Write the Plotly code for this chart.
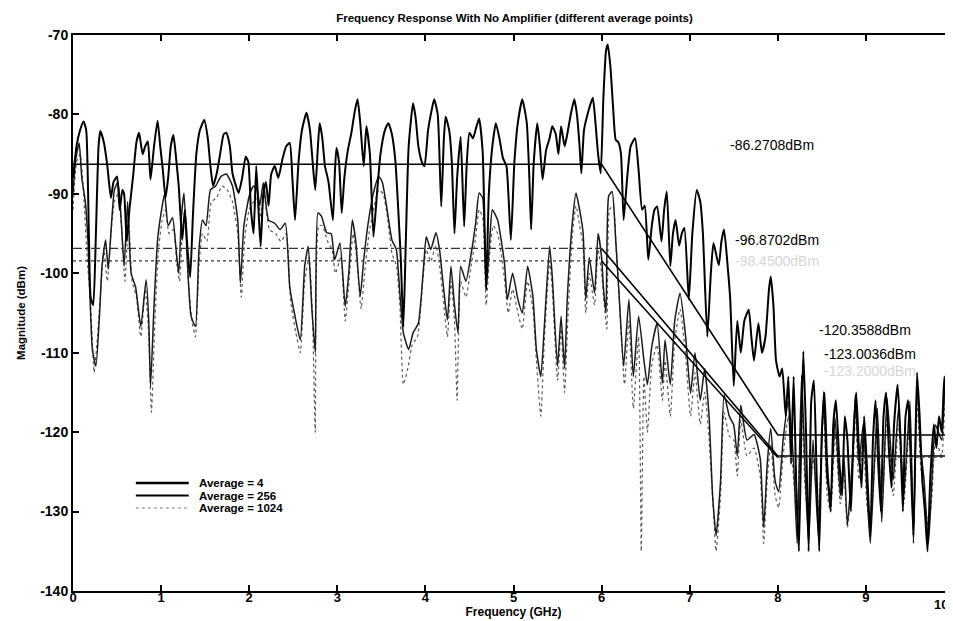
import plotly.graph_objects as go

# ---------------- data ----------------
freq_avg4 = [0.00,0.04,0.08,0.12,0.15,0.18,0.20,0.23,0.26,0.29,0.31,0.35,0.39,0.43,0.46,0.50,0.53,0.56,0.58,0.61,
             0.64,0.68,0.72,0.75,0.79,0.82,0.85,0.88,0.92,0.96,0.99,1.02,1.05,1.08,1.11,1.14,1.17,1.20,1.24,1.27,
             1.30,1.33,1.36,1.40,1.44,1.49,1.53,1.56,1.59,1.63,1.67,1.71,1.74,1.78,1.81,1.85,1.88,1.92,1.96,1.99,
             2.02,2.05,2.08,2.11,2.13,2.16,2.19,2.22,2.25,2.29,2.33,2.38,2.42,2.46,2.49,2.52,2.56,2.60,2.65,2.69,
             2.72,2.75,2.78,2.80,2.83,2.86,2.90,2.95,2.97,2.99,3.02,3.05,3.08,3.12,3.16,3.20,3.23,3.26,3.30,3.33,
             3.37,3.41,3.45,3.49,3.54,3.58,3.62,3.66,3.69,3.72,3.75,3.78,3.81,3.86,3.89,3.92,3.96,3.99,4.03,4.07,
             4.10,4.14,4.18,4.21,4.23,4.27,4.30,4.33,4.36,4.40,4.44,4.47,4.50,4.54,4.58,4.61,4.65,4.69,4.72,4.76,
             4.80,4.84,4.88,4.92,4.97,5.01,5.05,5.10,5.15,5.18,5.20,5.23,5.27,5.30,5.33,5.37,5.41,5.44,5.48,5.51,
             5.54,5.58,5.61,5.65,5.69,5.72,5.75,5.77,5.80,5.84,5.90,5.93,5.96,5.99,6.02,6.05,6.07,6.10,6.13,6.16,
             6.19,6.22,6.25,6.29,6.33,6.38,6.42,6.46,6.49,6.53,6.57,6.60,6.63,6.68,6.71,6.74,6.78,6.81,6.84,6.88,
             6.91,6.94,6.99,7.03,7.08,7.12,7.15,7.20,7.24,7.27,7.33,7.36,7.39,7.43,7.46,7.50,7.54,7.58,7.62,7.67,
             7.70,7.73,7.78,7.82,7.86,7.90,7.92,7.95,7.98,8.02,8.05,8.09,8.12,8.15,8.18,8.21,8.24,8.27,8.29,8.32,
             8.35,8.38,8.41,8.44,8.47,8.50,8.53,8.56,8.60,8.63,8.66,8.70,8.73,8.76,8.79,8.83,8.86,8.89,8.92,8.95,
             8.98,9.01,9.05,9.08,9.11,9.14,9.17,9.20,9.23,9.26,9.29,9.32,9.36,9.39,9.42,9.45,9.48,9.51,9.54,9.58,
             9.61,9.64,9.67,9.70,9.73,9.77,9.80,9.83,9.86,9.89,9.92,9.95,9.98,10.0]
mag_avg4 = [-88,-84,-82,-80.9,-82,-95,-103,-104,-95,-84,-82.1,-83.5,-86.5,-90.5,-88.5,-87.8,-92,-89.5,-90,-96,
            -92,-88,-83.5,-82.3,-85,-84,-83.4,-88.2,-84,-80.8,-84,-87,-90.5,-88,-84,-82.6,-85.5,-89,-95.8,-92,
            -97,-100.5,-93,-85,-82,-80.7,-83,-86.5,-89,-87.5,-85,-82.5,-82.3,-84,-87.4,-89,-89.9,-88,-85.3,-86,
            -92,-95,-86.5,-93,-96.6,-90,-88.5,-91.5,-87.5,-86.5,-88,-85.5,-84,-83.6,-88,-93.3,-86,-81.9,-79.8,-82,
            -86,-89.5,-84,-81.1,-83,-86.5,-88.5,-93.3,-88,-84.2,-86,-92.4,-88,-84.5,-82.3,-79.5,-78.1,-81,-86.5,-81.5,
            -85,-95.4,-90,-85,-82,-81.1,-82.5,-86,-91.6,-98,-106.7,-95,-84,-78.6,-80.5,-84,-86,-86.5,-82,-79.5,
            -78.1,-80,-91.6,-83,-80.3,-82,-86,-95,-88,-82.8,-94.1,-86,-82.3,-83,-81.5,-80.5,-84.7,-102,-90,-84,
            -81.1,-83,-85.5,-86.5,-95.8,-86,-81,-78.1,-81,-88,-94.5,-86,-81.1,-84,-88.2,-84.5,-83,-81.5,-82.5,-85,
            -81.5,-84,-82.5,-80,-78.1,-80,-84,-87.4,-82,-80,-77.9,-81,-85,-87.4,-78,-72,-71.2,-74,-79,-83.2,
            -83.5,-85,-93.3,-88,-84,-83,-87,-92,-91.5,-98.3,-94,-92,-91.6,-96,-92,-89.7,-99.1,-95,-93.3,-96.5,
            -95,-94.3,-103.3,-95,-89.5,-91,-95,-108,-100,-96.2,-99,-96,-94.5,-99,-103.3,-114.2,-106,-110,-106,-104.6,
            -108,-111,-106.3,-110,-108,-102,-100.4,-104,-111,-113,-112,-118,-113,-124,-113,-127,-135,-118,-109.8,-120,
            -135,-116,-113.5,-125,-135,-120,-115,-124,-130,-119,-116,-124,-128,-118,-121,-130,-120,-115,-122,-127,
            -118,-124,-133,-121,-116,-124,-130,-118,-115,-122,-127,-119,-114,-120,-130,-118,-116,-124,-133,-112.5,
            -118,-126,-130,-135,-126,-119,-122,-118,-120,-113,-118,-127,-121,-117]

freq_avg256 = [0.00,0.03,0.07,0.10,0.14,0.17,0.19,0.22,0.26,0.30,0.33,0.37,0.40,0.44,0.47,0.51,0.54,0.58,0.62,0.66,
               0.71,0.77,0.83,0.86,0.88,0.92,0.96,1.00,1.04,1.08,1.13,1.17,1.20,1.23,1.26,1.30,1.34,1.39,1.43,1.47,
               1.51,1.56,1.62,1.68,1.74,1.81,1.87,1.90,1.94,2.00,2.05,2.09,2.12,2.16,2.22,2.29,2.35,2.41,2.46,2.52,
               2.58,2.63,2.67,2.71,2.75,2.78,2.82,2.88,2.93,2.97,3.03,3.09,3.13,3.17,3.21,3.26,3.30,3.35,3.41,3.47,
               3.51,3.56,3.62,3.67,3.71,3.75,3.81,3.86,3.92,3.98,4.01,4.06,4.12,4.16,4.20,4.25,4.29,4.33,4.37,4.40,
               4.46,4.52,4.57,4.61,4.65,4.69,4.73,4.76,4.82,4.86,4.90,4.93,4.99,5.05,5.10,5.16,5.22,5.26,5.31,5.35,
               5.41,5.44,5.50,5.54,5.58,5.61,5.67,5.71,5.75,5.79,5.82,5.86,5.92,5.96,6.00,6.02,6.05,6.08,6.12,6.16,
               6.20,6.25,6.31,6.36,6.42,6.48,6.52,6.57,6.63,6.69,6.72,6.78,6.83,6.89,6.95,7.01,7.06,7.12,7.17,7.22,
               7.26,7.30,7.35,7.39,7.45,7.50,7.54,7.58,7.65,7.73,7.80,7.84,7.88,7.92,7.97,8.01,8.06,8.12,8.18,8.22,
               8.27,8.31,8.35,8.40,8.46,8.52,8.56,8.60,8.65,8.71,8.75,8.79,8.86,8.88,8.92,8.97,9.01,9.05,9.13,9.18,
               9.24,9.31,9.37,9.43,9.50,9.54,9.58,9.62,9.66,9.71,9.75,9.79,9.86,9.90,9.95,10.0]
mag_avg256 = [-90,-85.7,-83.6,-88,-91,-96,-102.1,-109.6,-111.7,-105.4,-99,-95.8,-99.5,-93.3,-89.5,-88.5,-92,-99.1,-91,-100,
              -101.7,-106.7,-100.8,-106,-114.3,-104,-95.8,-92.4,-90,-94,-93,-97,-100,-93,-89.9,-99,-105.4,-106.7,-97,-93.3,
              -94,-89.5,-89,-87.8,-87.5,-89,-93.3,-101.2,-94,-90.3,-89,-89.5,-91.5,-88.6,-93.3,-93.7,-94.5,-93.7,-101.7,-105.4,
              -108.4,-99.1,-96.6,-104.2,-110,-92.4,-92.8,-94.9,-95,-98.3,-96.2,-104.2,-100,-93.3,-96,-102.9,-98.3,-93.7,-89.9,-87.8,
              -88.5,-91.6,-95.8,-97.0,-102.5,-107.5,-109.6,-107.5,-106.3,-99.1,-95.4,-97,-94.9,-97,-101.2,-105.9,-99.1,-104,-107.5,-99.1,
              -101,-97.5,-93.7,-89.9,-90.5,-102.1,-95.8,-92,-93.3,-95.8,-99,-103.3,-100,-103.3,-105,-99.1,-102.9,-109.6,-113,-106.7,
              -96.6,-100.4,-111.7,-105.4,-112,-103.3,-93.3,-89.9,-92,-94.9,-103.3,-98,-102.5,-95,-98,-101.7,-105,-90.3,-89.7,-95.8,
              -103,-111.7,-103.3,-113,-105.4,-110.9,-114,-109.2,-106.3,-113.8,-108.4,-114,-106,-102.5,-107.5,-115.1,-110,-116,-112,-118,
              -128,-133,-126.2,-115.3,-118,-119.1,-123,-116.6,-121,-120.3,-123.3,-132,-124,-119.5,-126.2,-127.5,-121,-116.1,-124,-134,
              -112.8,-125,-134,-121,-133,-114.9,-126,-128,-118.2,-128,-123,-131.7,-121,-115.3,-124,-119,-127,-134,-117,-131.3,
              -115.7,-126,-117,-128,-116.1,-134,-114,-122,-126,-134,-126,-119.1,-121,-113.5,-124,-117]

freq_avg1024 = [0.00,0.04,0.08,0.12,0.16,0.20,0.24,0.27,0.31,0.35,0.39,0.43,0.47,0.51,0.55,0.59,0.63,0.67,0.72,0.77,
                0.82,0.86,0.89,0.93,0.97,1.01,1.05,1.09,1.14,1.18,1.21,1.24,1.27,1.31,1.35,1.39,1.43,1.47,1.52,1.57,
                1.63,1.69,1.75,1.81,1.87,1.91,1.95,2.00,2.05,2.10,2.13,2.17,2.23,2.30,2.36,2.42,2.47,2.53,2.58,2.63,
                2.68,2.72,2.75,2.79,2.83,2.89,2.94,2.98,3.04,3.09,3.13,3.18,3.22,3.27,3.31,3.36,3.42,3.47,3.52,3.57,
                3.62,3.67,3.71,3.75,3.80,3.85,3.91,3.97,4.01,4.06,4.12,4.16,4.20,4.25,4.29,4.33,4.36,4.40,4.46,4.52,
                4.57,4.61,4.65,4.69,4.73,4.77,4.82,4.86,4.90,4.94,4.99,5.05,5.10,5.16,5.22,5.26,5.31,5.35,5.41,5.44,
                5.50,5.54,5.58,5.62,5.67,5.71,5.75,5.79,5.82,5.86,5.92,5.96,6.00,6.03,6.06,6.09,6.13,6.17,6.21,6.26,
                6.31,6.36,6.42,6.45,6.48,6.52,6.57,6.63,6.69,6.72,6.78,6.83,6.89,6.95,7.01,7.06,7.12,7.17,7.22,7.27,
                7.30,7.35,7.39,7.45,7.50,7.54,7.58,7.65,7.73,7.80,7.84,7.88,7.92,7.97,8.01,8.06,8.12,8.18,8.22,8.27,
                8.31,8.35,8.40,8.46,8.52,8.56,8.60,8.65,8.71,8.75,8.79,8.86,8.88,8.92,8.97,9.01,9.05,9.13,9.18,9.24,
                9.31,9.37,9.43,9.50,9.54,9.58,9.62,9.66,9.71,9.75,9.79,9.86,9.90,9.95,10.0]
mag_avg1024 = [-92,-86,-85,-90,-98,-104,-112.5,-109,-103,-97,-101,-95,-91,-90,-94,-101,-93,-101,-103,-108,
               -102,-108,-117.5,-106,-97,-93.5,-92,-95,-94.5,-99,-101,-95,-92,-101,-106,-108,-99,-95,-96,-91,
               -90.5,-89,-89.5,-91,-95,-103,-95.5,-92,-91,-90.5,-93,-90,-94.5,-95,-96,-95,-103.5,-107.5,-110,-101,
               -98,-106,-120,-94,-94,-96,-97,-100,-98,-106,-101.5,-95,-98,-104.5,-100,-95,-91.5,-89.5,-90,-93,
               -97.5,-99,-104,-114,-112,-109,-108,-101,-97,-98.5,-96.5,-99,-103,-108,-101,-106,-116,-101,-103,-99,
               -95.5,-92,-93,-104,-97.5,-94,-95,-97.5,-101,-105,-102,-105,-107,-101,-104.5,-111,-118,-108.5,-98.5,-102,
               -113.5,-107,-115,-105,-95,-91.5,-94,-96.5,-105,-100,-104,-97,-100,-104,-107,-92,-91.5,-97.5,-105,-114,
               -106,-117,-108,-135,-113,-120,-111.5,-109,-116,-111,-118,-108.5,-104.5,-110,-118,-112.5,-119,-115,-121,-130,
               -135,-128,-117.5,-120.5,-121,-125.5,-118.5,-123,-122,-125.5,-134,-126,-121.5,-128,-129.5,-123,-118,-126,-131,-115,
               -127,-131,-123,-130,-117,-128,-130,-120,-129,-125,-132,-123,-117,-126,-121,-129,-132,-119,-130,-118,
               -128,-119,-129,-118,-132,-116,-124,-128,-132,-128,-121,-123,-116,-126,-119]

# mean levels (band 0-6 GHz and 8-10 GHz)
mean_freq = [0, 6, 8, 10]
mean_avg4 = [-86.2708, -86.2708, -120.3588, -120.3588]
mean_avg256 = [-96.8702, -96.8702, -123.0036, -123.0036]
mean_avg1024 = [-98.45, -98.45, -123.2, -123.2]

legend_labels = ["Average = 4", "Average = 256", "Average = 1024"]
x_ticks = list(range(0, 11))
y_ticks = list(range(-140, -69, 10))

# ---------------- figure ----------------
FONT = "Liberation Sans, Arial, sans-serif"
fig = go.Figure()

fig.add_trace(go.Scatter(x=freq_avg1024, y=mag_avg1024, mode="lines", name=legend_labels[2],
                         line=dict(color="#5a5a5a", width=1.2, dash="dot", shape="spline", smoothing=0.5),
                         showlegend=False))
fig.add_trace(go.Scatter(x=freq_avg256, y=mag_avg256, mode="lines", name=legend_labels[1],
                         line=dict(color="#1a1a1a", width=1.5, shape="spline", smoothing=0.5),
                         showlegend=False))
fig.add_trace(go.Scatter(x=freq_avg4, y=mag_avg4, mode="lines", name=legend_labels[0],
                         line=dict(color="#000000", width=2, shape="spline", smoothing=0.5),
                         showlegend=False))

# mean lines: horizontal band segments + connecting diagonals
fig.add_trace(go.Scatter(x=mean_freq, y=mean_avg4, mode="lines", showlegend=False,
                         line=dict(color="#000", width=1.6)))
fig.add_trace(go.Scatter(x=mean_freq[:2], y=mean_avg256[:2], mode="lines", showlegend=False,
                         line=dict(color="#333", width=1.2, dash="dashdot")))
fig.add_trace(go.Scatter(x=mean_freq[1:], y=mean_avg256[1:], mode="lines", showlegend=False,
                         line=dict(color="#000", width=1.6)))
fig.add_trace(go.Scatter(x=mean_freq[:2], y=mean_avg1024[:2], mode="lines", showlegend=False,
                         line=dict(color="#333", width=1.2, dash="dot")))
fig.add_trace(go.Scatter(x=mean_freq[1:3], y=mean_avg1024[1:3], mode="lines", showlegend=False,
                         line=dict(color="#000", width=1.6)))
fig.add_trace(go.Scatter(x=mean_freq[2:], y=mean_avg1024[2:], mode="lines", showlegend=False,
                         line=dict(color="#666", width=1.0, dash="dot")))

annotations = []
def lab(x, y, text, color="#000"):
    annotations.append(dict(x=x, y=y, xref="x", yref="y", text=text, showarrow=False,
                            xanchor="left", yanchor="middle",
                            font=dict(family=FONT, size=14, color=color)))
lab(7.43, -83.85, "-86.2708dBm")
lab(7.49, -95.8, "-96.8702dBm")
lab(7.49, -98.4, "-98.4500dBm", color="#d6d6d6")
lab(8.45, -107.15, "-120.3588dBm")
lab(8.50, -110.2, "-123.0036dBm")
lab(8.50, -112.3, "-123.2000dBm", color="#d6d6d6")

# custom compact legend (MATLAB style)
L, R, T, B = 65, 5, 27, 38
PW, PH = 953 - L - R, 621 - T - B
def px(xp): return (xp - L) / PW
def py(yp): return (621 - B - yp) / PH
leg_y = [475, 487.5, 500]
leg_style = [dict(color="#000", width=2.5), dict(color="#000", width=2), dict(color="#777", width=1.2, dash="dot")]
shapes = []
for yy, st, txt in zip(leg_y, leg_style, legend_labels):
    shapes.append(dict(type="line", xref="paper", yref="paper", x0=px(128), x1=px(181),
                       y0=py(yy), y1=py(yy), line=st))
    annotations.append(dict(x=px(189), y=py(yy), xref="paper", yref="paper", text="<b>%s</b>" % txt,
                            showarrow=False, xanchor="left", yanchor="middle",
                            font=dict(family=FONT, size=11.5, color="#000")))

# last x tick label ("10") at the right edge of the axis
annotations.append(dict(x=1, y=0, xref="paper", yref="paper", text="<b>10</b>", showarrow=False,
                        xanchor="center", yanchor="top", yshift=-4, xshift=-13,
                        font=dict(family=FONT, size=13, color="#000")))

axis_common = dict(showline=True, linecolor="#000", linewidth=2, mirror="ticks", ticks="inside",
                   ticklen=6, tickwidth=1.5, tickcolor="#000", showgrid=False, zeroline=False)

x_text = ["<b>%d</b>" % v for v in x_ticks]
x_text[-1] = ""

fig.update_layout(
    width=953, height=621,
    margin=dict(l=L, r=R, t=T, b=B),
    paper_bgcolor="white", plot_bgcolor="white",
    title=dict(text="<b>Frequency Response With No Amplifier (different average points)</b>",
               x=(L + PW / 2) / 953, xanchor="center", y=1 - 6 / 621, yanchor="top",
               font=dict(family=FONT, size=11.5, color="#000")),
    xaxis=dict(range=[0, 10], tickvals=x_ticks, ticktext=x_text, ticklabelstandoff=-7,
               tickfont=dict(family=FONT, size=13, color="#000"),
               title=dict(text="<b>Frequency (GHz)</b>", font=dict(family=FONT, size=12, color="#000"),
                          standoff=0), **axis_common),
    yaxis=dict(range=[-140, -70], tickvals=y_ticks, ticktext=["<b>%d</b>" % v for v in y_ticks],
               tickfont=dict(family=FONT, size=14, color="#000"),
               title=dict(text="<b>Magnitude (dBm)</b>", font=dict(family=FONT, size=11.5, color="#000"),
                          standoff=12), **axis_common),
    annotations=annotations, shapes=shapes, showlegend=False,
)

fig.write_html("out.html")
